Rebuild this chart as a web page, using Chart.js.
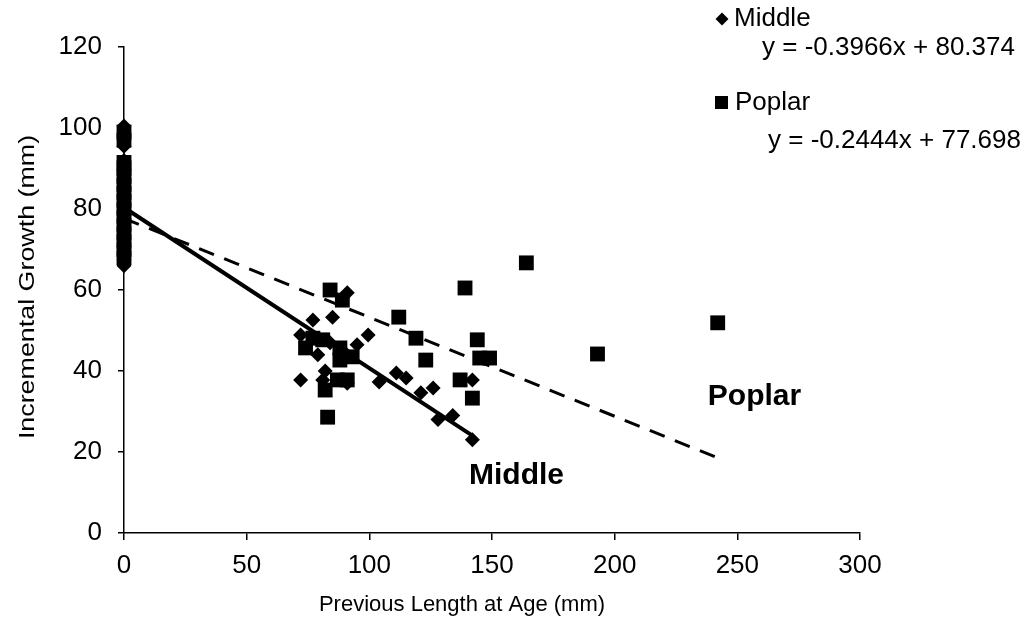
<!DOCTYPE html>
<html>
<head>
<meta charset="utf-8">
<title>Incremental Growth vs Previous Length</title>
<script src="https://cdn.jsdelivr.net/npm/chart.js@4.4.1/dist/chart.umd.min.js"></script>
<style>
    body { margin: 0; background: #fff; }
    #wrap { width: 1032px; height: 637px; }
</style>
</head>
<body>
<div id="wrap"><canvas id="growth-chart"></canvas></div>
<script>
// Middle site (diamonds)
const middleX = [0, 0, 0, 0, 0, 0, 0, 0, 0, 0, 0, 0, 0, 0, 0, 0, 0,
    91, 85, 77, 72, 79, 99.5, 104, 72, 81, 91, 126, 121, 128, 134, 142, 111, 115, 142,
    84, 90, 95, 82];
const middleY = [100.5, 98, 95.5, 92, 89.5, 87, 85, 83, 81, 79, 77, 75, 73, 71, 69, 67.5, 66,
    59.3, 53.3, 52.6, 48.9, 44, 48.9, 37.3, 37.8, 37.8, 37, 35.8, 34.6, 28, 29, 23, 39.5, 38.3, 37.8,
    47, 44.5, 46.5, 40];

// Poplar site (squares)
const poplarX = [0, 0, 0, 0, 0, 0, 0, 0, 0, 0, 0, 0, 0, 0, 0,
    84, 89, 112, 139, 164, 119, 123, 144, 149, 145, 137, 142, 83, 242, 193,
    74, 77, 81, 88, 88, 93, 87, 91, 82];
const poplarY = [99, 97, 91.5, 90, 88, 86, 84, 82, 80, 78, 76, 74, 72, 70, 68,
    60, 57.5, 53.3, 60.5, 66.7, 48.1, 42.7, 47.7, 43.2, 43.2, 37.8, 33.3, 28.6, 51.9, 44.2,
    45.7, 48.1, 47.7, 45.7, 42.7, 43.5, 37.8, 37.8, 35.3];

// linear fits: [slope, intercept]
const middleFit = [-0.3966, 80.374];
const poplarFit = [-0.2444, 77.698];
const middleEq = "y = -0.3966x + 80.374";
const poplarEq = "y = -0.2444x + 77.698";

const xTitle = "Previous Length at Age (mm)";
const yTitle = "Incremental Growth (mm)";

const FONT = "'Liberation Sans', Arial, sans-serif";

function toPoints(xs, ys) {
    return xs.map((x, i) => ({ x: x, y: ys[i] }));
}

function fitLine(fit, xs) {
    const lo = Math.min(...xs);
    const hi = Math.max(...xs);
    return [lo, hi].map(x => ({ x: x, y: fit[0] * x + fit[1] }));
}

function diamond(ctx, x, y, r) {
    ctx.beginPath();
    ctx.moveTo(x, y - r);
    ctx.lineTo(x + r, y);
    ctx.lineTo(x, y + r);
    ctx.lineTo(x - r, y);
    ctx.closePath();
    ctx.fill();
}

// axis titles, key in the top right corner, bold site names beside the fit lines
const labelsPlugin = {
    id: "siteLabels",
    afterDraw(chart) {
        const ctx = chart.ctx;
        const xs = chart.scales.x;
        const ys = chart.scales.y;
        ctx.save();
        ctx.fillStyle = "#000";
        ctx.textBaseline = "middle";

        // axis titles
        ctx.font = "22px " + FONT;
        ctx.textAlign = "center";
        ctx.fillText(xTitle, 462, 605);
        ctx.save();
        ctx.translate(28, 287);
        ctx.rotate(-Math.PI / 2);
        ctx.scale(1.22, 1);
        ctx.fillText(yTitle, 0, 0);
        ctx.restore();

        // key
        ctx.textAlign = "left";
        diamond(ctx, 722, 19, 6.5);
        ctx.fillRect(715, 96, 13, 13);
        ctx.font = "26px " + FONT;
        ctx.fillText("Middle", 734, 19);
        ctx.fillText(middleEq, 762, 48);
        ctx.fillText("Poplar", 735, 103);
        ctx.fillText(poplarEq, 768, 141);

        ctx.font = "bold 30px " + FONT;
        ctx.textAlign = "center";
        ctx.fillText("Middle", xs.getPixelForValue(160), ys.getPixelForValue(14.2));
        ctx.fillText("Poplar", xs.getPixelForValue(257), ys.getPixelForValue(33.6));
        ctx.restore();
    }
};

const ctx = document.getElementById("growth-chart").getContext("2d");

new Chart(ctx, {
    type: "scatter",
    data: {
        datasets: [
            {
                label: "Middle",
                data: toPoints(middleX, middleY),
                pointStyle: "rectRot",
                pointRadius: 7.5,
                backgroundColor: "#000",
                borderColor: "#000",
                borderWidth: 0,
                clip: false
            },
            {
                label: "Poplar",
                data: toPoints(poplarX, poplarY),
                pointStyle: "rect",
                pointRadius: 10.5,
                backgroundColor: "#000",
                borderColor: "#000",
                borderWidth: 0,
                clip: false
            },
            {
                label: "Middle fit",
                type: "line",
                data: fitLine(middleFit, middleX),
                borderColor: "#000",
                borderWidth: 4,
                pointRadius: 0,
                fill: false
            },
            {
                label: "Poplar fit",
                type: "line",
                data: fitLine(poplarFit, poplarX),
                borderColor: "#000",
                borderWidth: 3,
                borderDash: [16, 11],
                pointRadius: 0,
                fill: false
            }
        ]
    },
    options: {
        responsive: true,
        maintainAspectRatio: false,
        animation: false,
        layout: {
            padding: { top: 47, right: 172, bottom: 0, left: 0 }
        },
        plugins: {
            legend: { display: false },
            tooltip: { enabled: false }
        },
        scales: {
            x: {
                type: "linear",
                min: 0,
                max: 300,
                ticks: {
                    stepSize: 50,
                    color: "#000",
                    padding: 10,
                    maxRotation: 0,
                    font: { family: FONT, size: 26 }
                },
                grid: {
                    drawOnChartArea: false,
                    color: "#000",
                    tickLength: 7,
                    lineWidth: 1.5
                },
                border: { color: "#000", width: 1.5 },
                afterFit: scale => { scale.height = 104; }
            },
            y: {
                min: 0,
                max: 120,
                ticks: {
                    stepSize: 20,
                    color: "#000",
                    padding: 16,
                    font: { family: FONT, size: 26 }
                },
                grid: {
                    drawOnChartArea: false,
                    color: "#000",
                    tickLength: 6,
                    lineWidth: 1.5
                },
                border: { color: "#000", width: 1.5 },
                afterFit: scale => { scale.width = 124; }
            }
        }
    },
    plugins: [labelsPlugin]
});
</script>
</body>
</html>
